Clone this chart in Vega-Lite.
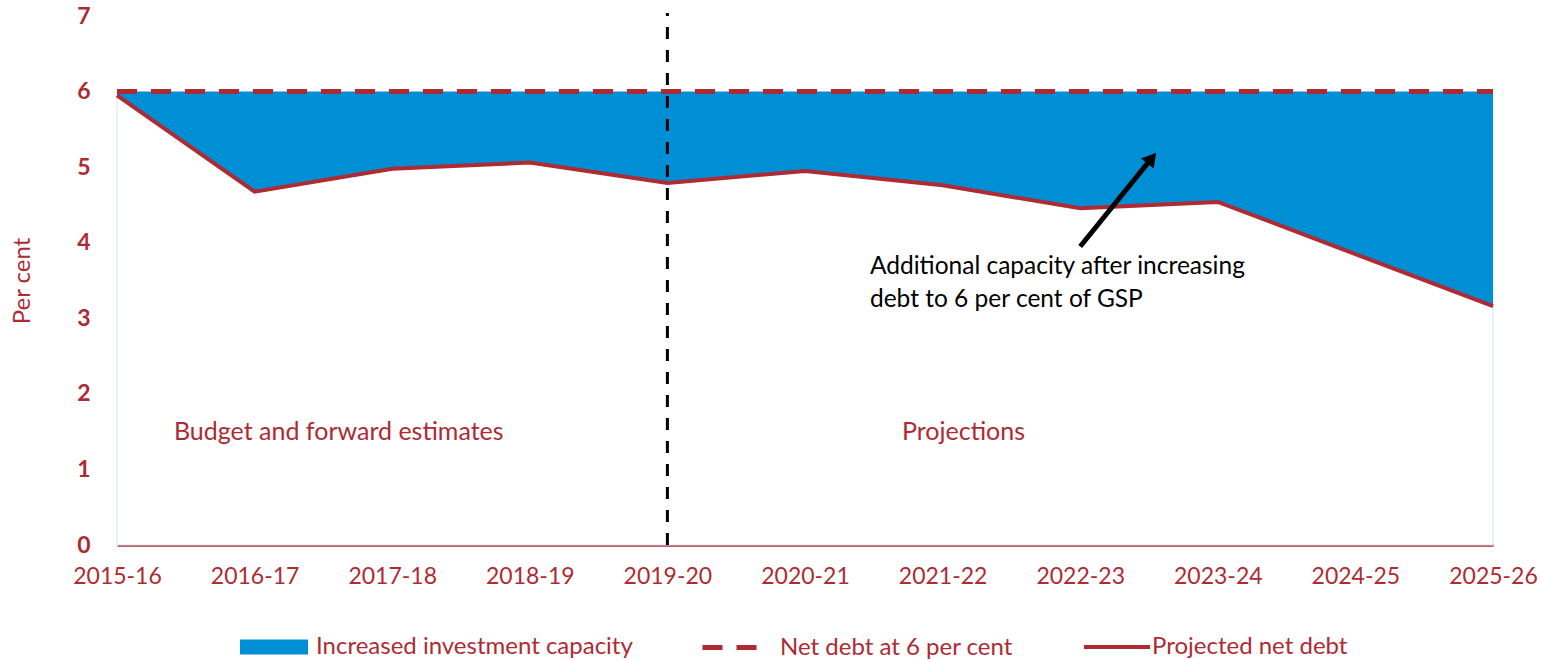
{
  "$schema": "https://vega.github.io/schema/vega-lite/v6.json",
  "width": 1376,
  "height": 529,
  "autosize": {"type": "none"},
  "padding": {"left": 117, "top": 16, "right": 49, "bottom": 115},
  "config": {
    "font": "Lato",
    "view": {"stroke": null},
    "axis": {"grid": false, "ticks": false},
    "legend": {"title": null, "labelFontSize": 24, "labelColor": "#AE2B33", "labelLimit": 500, "orient": "none"}
  },
  "datasets": {
    "main": [
      {"year": "2015-16", "i": 0, "debt": 5.95, "cap": 6},
      {"year": "2016-17", "i": 1, "debt": 4.675, "cap": 6},
      {"year": "2017-18", "i": 2, "debt": 4.98, "cap": 6},
      {"year": "2018-19", "i": 3, "debt": 5.06, "cap": 6},
      {"year": "2019-20", "i": 4, "debt": 4.79, "cap": 6},
      {"year": "2020-21", "i": 5, "debt": 4.95, "cap": 6},
      {"year": "2021-22", "i": 6, "debt": 4.76, "cap": 6},
      {"year": "2022-23", "i": 7, "debt": 4.455, "cap": 6},
      {"year": "2023-24", "i": 8, "debt": 4.54, "cap": 6},
      {"year": "2024-25", "i": 9, "debt": 3.85, "cap": 6},
      {"year": "2025-26", "i": 10, "debt": 3.16, "cap": 6}
    ],
    "divider": [{"x": 4, "y": 0, "y2": 7.04}],
    "arrow": [{"x": 7.0, "y": 3.95, "x2": 7.52, "y2": 5.12}],
    "arrowhead": [{"x": 7.52, "y": 5.12}],
    "labels": [
      {"x": 0.414, "y": 1.495, "text": "Budget and forward estimates"},
      {"x": 5.705, "y": 1.495, "text": "Projections"}
    ],
    "note": [
      {"x": 5.472, "y": 3.68, "text": "Additional capacity after increasing"},
      {"x": 5.472, "y": 3.24, "text": "debt to 6 per cent of GSP"}
    ]
  },
  "layer": [
    {
      "data": {"name": "main"},
      "mark": {"type": "area", "fill": "white", "stroke": "#cfe6f5", "strokeWidth": 1},
      "encoding": {
        "x": {
          "field": "i", "type": "quantitative",
          "scale": {"domain": [0, 10], "nice": false, "zero": false},
          "axis": {
            "title": null,
            "values": [0, 1, 2, 3, 4, 5, 6, 7, 8, 9, 10],
            "labelExpr": "['2015-16','2016-17','2017-18','2018-19','2019-20','2020-21','2021-22','2022-23','2023-24','2024-25','2025-26'][datum.value]",
            "labelFontSize": 23,
            "labelColor": "#AE2B33",
            "labelPadding": 20,
            "domainColor": "#AE2B33",
            "domainWidth": 2.5,
            "labelFlush": false,
            "labelOverlap": false
          }
        },
        "y": {
          "field": "debt", "type": "quantitative",
          "scale": {"domain": [0, 7], "nice": false},
          "axis": {
            "title": "Per cent",
            "values": [0, 1, 2, 3, 4, 5, 6, 7],
            "format": "d",
            "labelFontSize": 23,
            "labelFontWeight": "bold",
            "labelColor": "#AE2B33",
            "labelPadding": 27,
            "domain": false,
            "titleFontSize": 24,
            "titleFontWeight": "normal",
            "titleColor": "#AE2B33",
            "titlePadding": 42
          }
        }
      }
    },
    {
      "data": {"name": "main"},
      "mark": {"type": "area", "opacity": 1},
      "encoding": {
        "x": {"field": "i", "type": "quantitative"},
        "y": {"field": "debt", "type": "quantitative"},
        "y2": {"field": "cap"},
        "fill": {
          "datum": "Increased investment capacity",
          "type": "nominal",
          "scale": {"domain": ["Increased investment capacity"], "range": ["#008FD5"]},
          "legend": {
            "legendX": 123,
            "legendY": 597,
            "symbolSize": 4624,
            "symbolType": "M-1,-0.22H1V0.22H-1Z",
            "symbolOpacity": 1,
            "symbolStrokeWidth": 0,
            "labelOffset": 8
          }
        }
      }
    },
    {
      "data": {"name": "main"},
      "mark": {"type": "line", "strokeWidth": 5, "color": "#AE2B33"},
      "encoding": {
        "x": {"field": "i", "type": "quantitative"},
        "y": {"field": "cap", "type": "quantitative"},
        "strokeDash": {
          "datum": "Net debt at 6 per cent",
          "type": "nominal",
          "scale": {"domain": ["Net debt at 6 per cent"], "range": [[20, 14]]},
          "legend": {
            "legendX": 583,
            "legendY": 602,
            "symbolSize": 2916,
            "symbolType": "stroke",
            "symbolStrokeColor": "#AE2B33",
            "symbolStrokeWidth": 5,
            "labelOffset": 21
          }
        }
      }
    },
    {
      "data": {"name": "main"},
      "mark": {"type": "line", "strokeWidth": 4},
      "encoding": {
        "x": {"field": "i", "type": "quantitative"},
        "y": {"field": "debt", "type": "quantitative"},
        "stroke": {
          "datum": "Projected net debt",
          "type": "nominal",
          "scale": {"domain": ["Projected net debt"], "range": ["#AE2B33"]},
          "legend": {
            "legendX": 965,
            "legendY": 596,
            "symbolSize": 4356,
            "symbolType": "stroke",
            "symbolStrokeWidth": 4,
            "labelOffset": 0
          }
        }
      }
    },
    {
      "data": {"name": "divider"},
      "mark": {"type": "rule", "color": "black", "strokeWidth": 3, "strokeDash": [12, 11]},
      "encoding": {
        "x": {"field": "x", "type": "quantitative"},
        "y": {"field": "y", "type": "quantitative"},
        "y2": {"field": "y2"}
      }
    },
    {
      "data": {"name": "arrow"},
      "mark": {"type": "rule", "color": "black", "strokeWidth": 5},
      "encoding": {
        "x": {"field": "x", "type": "quantitative"},
        "y": {"field": "y", "type": "quantitative"},
        "x2": {"field": "x2"},
        "y2": {"field": "y2"}
      }
    },
    {
      "data": {"name": "arrowhead"},
      "mark": {"type": "point", "shape": "triangle-up", "filled": true, "color": "black", "opacity": 1, "size": 260, "angle": 39},
      "encoding": {
        "x": {"field": "x", "type": "quantitative"},
        "y": {"field": "y", "type": "quantitative"}
      }
    },
    {
      "data": {"name": "labels"},
      "mark": {"type": "text", "align": "left", "baseline": "middle", "fontSize": 25, "color": "#AE2B33"},
      "encoding": {
        "x": {"field": "x", "type": "quantitative"},
        "y": {"field": "y", "type": "quantitative"},
        "text": {"field": "text"}
      }
    },
    {
      "data": {"name": "note"},
      "mark": {"type": "text", "align": "left", "baseline": "middle", "fontSize": 24.5, "color": "black"},
      "encoding": {
        "x": {"field": "x", "type": "quantitative"},
        "y": {"field": "y", "type": "quantitative"},
        "text": {"field": "text"}
      }
    }
  ]
}
